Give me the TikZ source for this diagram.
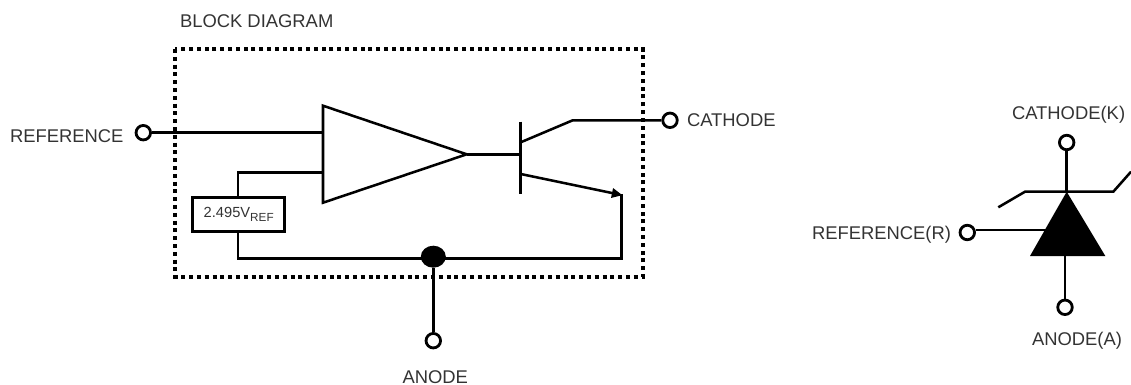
\documentclass[tikz,border=0pt]{standalone}
\usepackage{fontspec}
\setmainfont{Liberation Sans}
\usetikzlibrary{arrows.meta,shapes.geometric}
\definecolor{lbl}{HTML}{333333}
\tikzset{
  wire/.style={line width=1.9pt,line join=miter,black},
  term/.style={circle,draw=black,fill=white,line width=2.1pt,minimum size=14.5*0.75pt,inner sep=0pt},
  lab/.style={anchor=base west,inner sep=0pt,outer sep=0pt,text=lbl,font=\fontsize{13.8pt}{16pt}\selectfont},
  refbox/.style={rectangle,draw=black,fill=white,line width=1.9pt,minimum width=92*0.75pt,minimum height=34*0.75pt,inner sep=0pt,text=lbl,font=\fontsize{11pt}{13pt}\selectfont},
  dotbox/.style={draw=black,line width=3pt,dash pattern=on 3pt off 2.85pt},
  junction/.style={ellipse,fill=black,minimum width=25*0.75pt,minimum height=22*0.75pt,inner sep=0pt}
}
\begin{document}
\begin{tikzpicture}[x=0.75pt,y=-0.75pt]
\useasboundingbox (0,0) rectangle (1131,385);
% dotted block
\draw[dotbox] (175,49) rectangle (642.7,276.7);
% named points
\coordinate (ampT) at (323,105.7);
\coordinate (ampB) at (323,202.7);
\coordinate (ampO) at (466.7,154.3);
\coordinate (ampI) at (323,132.7);
\coordinate (ampF) at (323,172.3);
\coordinate (fbK) at (238,172.3);
\coordinate (refK) at (238,258.7);
\coordinate (baseT) at (520.7,121.7);
\coordinate (baseB) at (520.7,194);
\coordinate (baseM) at (520.7,154.3);
\coordinate (colA) at (520.7,142.3);
\coordinate (colB) at (572.7,120.3);
\coordinate (emiA) at (520.7,174);
\coordinate (emiB) at (622.5,195.2);
\coordinate (retT) at (621.7,194);
\coordinate (retB) at (621.7,258.7);
% nodes
\node[term] (tRef) at (143.3,132.7) {};
\node[term] (tCat) at (670,120.3) {};
\node[term] (tAno) at (433.3,340.7) {};
\node[junction] (dot) at (433.3,256.7) {};
\node[refbox] (vref) at (238.7,214.5) {2.495V\raisebox{-3pt}{\fontsize{8.8pt}{10pt}\selectfont REF}};
% connectors
\draw[wire] (tRef) -- (ampI);
\draw[wire] (ampT) -- (ampO) -- (ampB) -- cycle;
\draw[wire] (ampF) -- (fbK) -- (vref.north -| fbK);
\draw[wire] (vref.south -| refK) -- (refK) -- (retB) -- (retT);
\draw[wire] (dot) -- (tAno);
\draw[wire] (ampO) -- (baseM);
\draw[wire] (baseT) -- (baseB);
\draw[wire] (colA) -- (colB) -- (tCat);
\draw[wire,-{Triangle[length=8pt,width=7pt]}] (emiA) -- (emiB);
% symbol
\node[term] (kC) at (1066.7,142.5) {};
\node[term] (kA) at (1065,307.3) {};
\node[term] (kR) at (967.3,232.5) {};
\coordinate (apex) at (1066.7,191.7);
\coordinate (baseL) at (1030,256);
\coordinate (baseR) at (1105.3,256);
\coordinate (wingL) at (998.3,207.3);
\coordinate (wingLi) at (1025,191.7);
\coordinate (wingRi) at (1113.3,191.7);
\coordinate (wingR) at (1131,171.7);
\coordinate (tiR) at (1048,230);
\coordinate (tiA) at (1065,256);
\draw[wire] (wingL) -- (wingLi) -- (wingRi) -- (wingR);
\draw[wire] (kC) -- (apex);
\draw[wire] (kR.east |- tiR) -- (tiR);
\draw[wire] (tiA) -- (kA);
\fill[black] (apex) -- (baseR) -- (baseL) -- cycle;
% labels
\node[lab] (lBlock) at (180,28) {BLOCK DIAGRAM};
\node[lab] (lRef) at (10,142) {REFERENCE};
\node[lab] (lCat) at (687,127) {CATHODE};
\node[lab] (lAno) at (402.5,383) {ANODE};
\node[lab] (lK) at (1012,119) {CATHODE(K)};
\node[lab] (lR) at (812,239.5) {REFERENCE(R)};
\node[lab] (lA) at (1032,345) {ANODE(A)};
\end{tikzpicture}
\end{document}
